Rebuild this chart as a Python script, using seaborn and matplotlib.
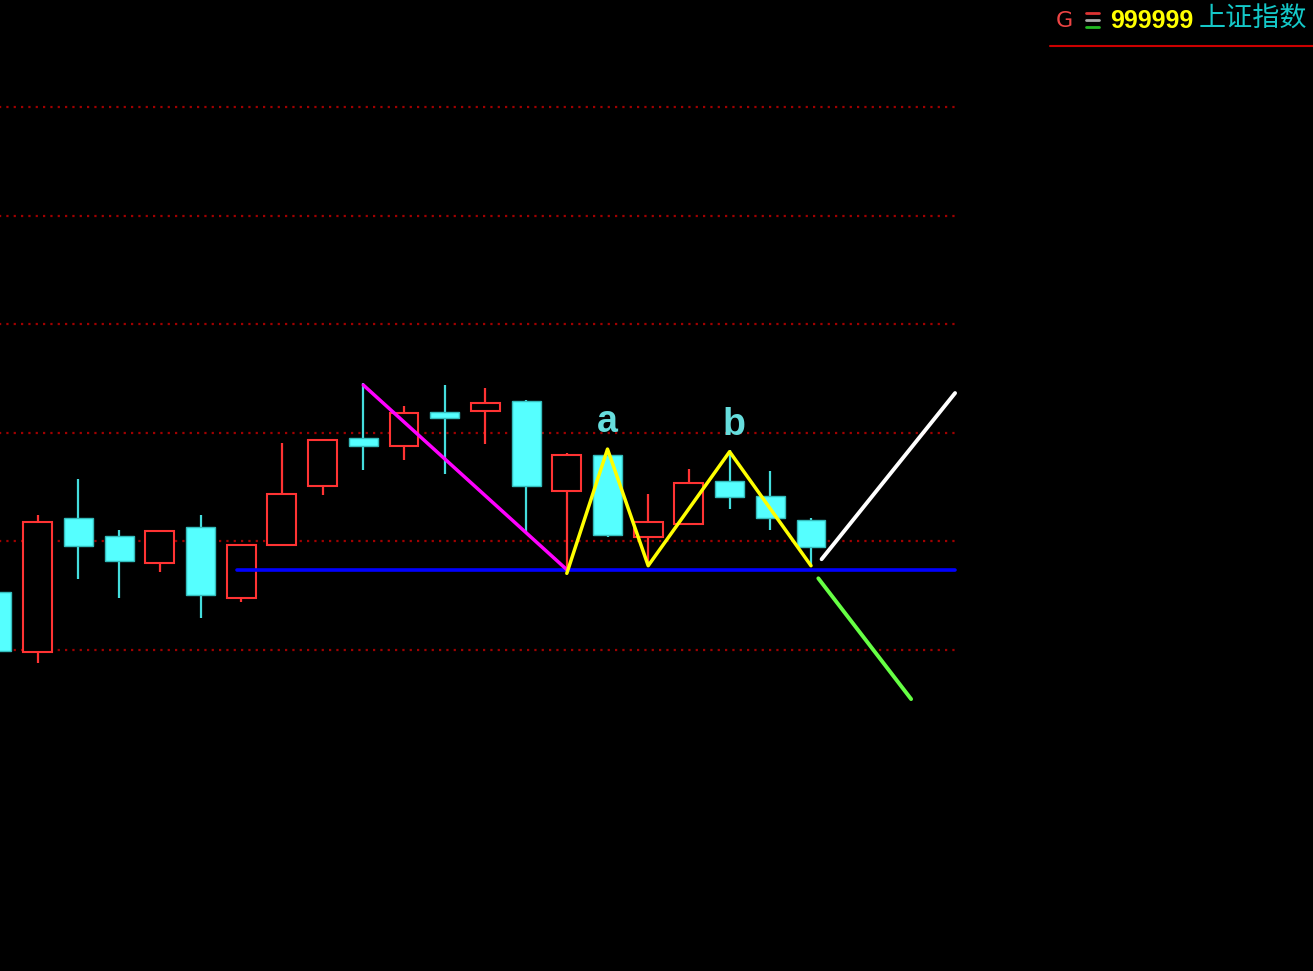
import matplotlib
matplotlib.use("Agg")
import matplotlib.pyplot as plt
from matplotlib.lines import Line2D
import pandas as pd
import seaborn as sns

sns.set_style("dark", {"axes.facecolor": "black", "figure.facecolor": "black"})

# ---------- data ----------
opens = [3076.8, 3049.1, 3110.8, 3102.6, 3090.2, 3106.8, 3073.9, 3098.3, 3125.6, 3147.7, 3144.1,
         3159.7, 3160.2, 3164.8, 3123.2, 3139.8, 3102.2, 3107.9, 3127.7, 3121.0, 3110.0]
closes = [3049.7, 3108.9, 3098.0, 3090.8, 3104.9, 3075.5, 3098.5, 3121.8, 3146.7, 3143.9, 3159.0,
          3156.8, 3163.9, 3125.4, 3139.6, 3102.9, 3108.9, 3126.7, 3120.6, 3110.9, 3097.4]
highs = [3080.0, 3112.3, 3128.7, 3105.2, 3104.9, 3112.3, 3098.5, 3145.4, 3146.7, 3172.8, 3162.3,
         3172.0, 3170.5, 3165.2, 3140.6, 3141.0, 3122.0, 3133.3, 3142.1, 3132.6, 3110.9]
lows = [3046.0, 3044.2, 3082.7, 3073.8, 3085.9, 3064.9, 3072.2, 3098.3, 3121.4, 3132.9, 3137.5,
        3131.2, 3144.8, 3104.2, 3086.8, 3102.2, 3089.1, 3107.9, 3114.9, 3105.2, 3088.7]

grid_levels = [3300, 3250, 3200, 3150, 3100, 3050]
neckline = 3086.7

# drawn pattern lines: (x index, price)
drop_x, drop_y = [9, 14], [3172.0, 3087.0]
zig_x = [14, 15, 16, 18, 20]
zig_y = [3085.3, 3142.5, 3088.8, 3141.3, 3088.8]
up_x, up_y = [20.26, 23.54], [3091.8, 3168.3]
down_x, down_y = [20.18, 22.46], [3083.0, 3027.4]
peak_labels = [("a", 15.0, 3150.5), ("b", 18.1, 3149.0)]

UP = "#ff3333"
DOWN = "#55ffff"

df = pd.DataFrame({"open": opens, "close": closes, "high": highs, "low": lows})
df["x"] = range(len(df))
df["rise"] = df["close"] >= df["open"]

fig = plt.figure(figsize=(13.13, 9.71), dpi=100)
ax = fig.add_axes([0, 0, 1, 1])
ax.set_facecolor("black")

# dotted grid
for lvl in grid_levels:
    ax.plot([0, 23.6], [lvl, lvl], color="#a00000", lw=1.6, ls=(0, (1, 2.3)), zorder=1)

# candles
for _, r in df.iterrows():
    wick = UP if r["rise"] else "#44dddd"
    ax.vlines(r["x"], r["low"], r["high"], color=wick, lw=1.6, zorder=2)
    lo, hi = min(r["open"], r["close"]), max(r["open"], r["close"])
    if r["rise"]:
        ax.bar(r["x"], hi - lo, bottom=lo, width=0.71, facecolor="black",
               edgecolor=UP, linewidth=1.5, zorder=3)
    else:
        ax.bar(r["x"], hi - lo, bottom=lo, width=0.71, facecolor=DOWN,
               edgecolor="#33bbbb", linewidth=1.0, zorder=3)

# pattern lines
lines = pd.DataFrame({
    "x": [5.9, 23.54] + drop_x + zig_x + up_x + down_x,
    "y": [neckline, neckline] + drop_y + zig_y + up_y + down_y,
    "seg": ["neck"] * 2 + ["drop"] * 2 + ["zig"] * 5 + ["up"] * 2 + ["down"] * 2,
})
styles = {"neck": ("#0000ff", 2.6), "drop": ("#ff00ff", 2.5), "zig": ("#ffff00", 2.5),
          "up": ("#ffffff", 2.8), "down": ("#66ff44", 2.8)}
for seg, (c, w) in styles.items():
    sns.lineplot(data=lines[lines["seg"] == seg], x="x", y="y", color=c, lw=w,
                 estimator=None, sort=False, ax=ax, zorder=4)

for txt, x, y in peak_labels:
    ax.text(x, y, txt, color="#66dddd", fontsize=27, fontweight="bold",
            family=["Liberation Sans", "DejaVu Sans"], ha="center", va="baseline", zorder=5)

ax.set_xlim(3 / 40.7, 1316 / 40.7)
ax.set_ylim(3300 - 864 / 2.172, 3300 + 107 / 2.172)
ax.set_axis_off()

# ---------- header (top right) ----------
W, H = 1313, 971
fig.text(1056 / W, 1 - 27 / H, "G", color="#ee4444", fontsize=16, ha="left", va="baseline",
         family=["DejaVu Sans"])
for yy, c in [(13.3, "#dd3333"), (20, "#aaaaaa"), (26.7, "#22bb22")]:
    fig.add_artist(Line2D([1086 / W, 1099 / W], [1 - yy / H] * 2, color=c, lw=2))
fig.text(1110 / W, 1 - 28 / H, "999999", color="#ffff00", fontsize=18, fontweight="bold",
         ha="left", va="baseline", family=["Liberation Sans"])
fig.text(1199 / W, 1 - 19.5 / H, "上证指数", color="#14c8c8", fontsize=19.5, ha="left",
         va="center", family=["Noto Sans CJK SC", "DejaVu Sans"])
fig.add_artist(Line2D([1050 / W, 1.0], [1 - 45.7 / H] * 2, color="#cc0000", lw=1.5))

fig.savefig("out.png", dpi=100, facecolor="black")
